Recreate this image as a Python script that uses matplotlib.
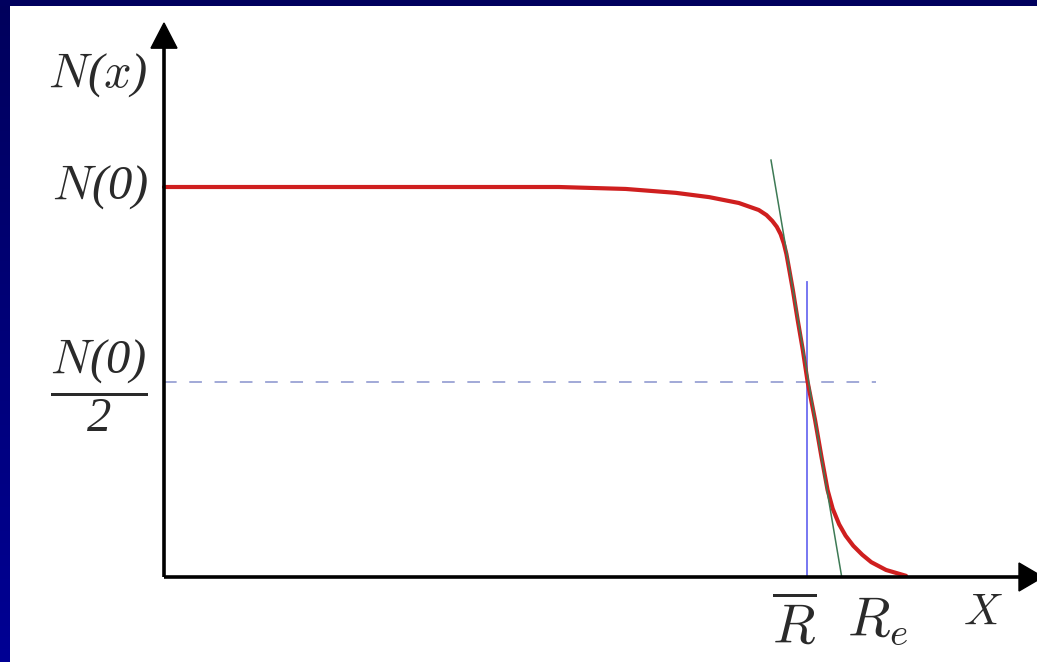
import numpy as np
import matplotlib
matplotlib.use("Agg")
import matplotlib.pyplot as plt
from matplotlib.colors import LinearSegmentedColormap

# Computer Modern italic letters, slanted parentheses / digits as in the original
plt.rcParams["mathtext.fontset"] = "custom"
plt.rcParams["mathtext.it"] = "cmmi10"
plt.rcParams["mathtext.rm"] = "Liberation Serif:italic"

# ── density profile N(x) (x in units of R-bar, y in units of N(0))
x_curve = [0.000, 0.365, 0.614, 0.718, 0.796, 0.848, 0.894, 0.925, 0.937, 0.946,
           0.953, 0.959, 0.964, 0.968, 0.9725, 0.978, 0.9855, 0.9935, 1.001, 1.0125,
           1.0225, 1.032, 1.040, 1.050, 1.060, 1.072, 1.086, 1.100, 1.123, 1.154]
y_curve = [1.000, 1.000, 1.000, 0.995, 0.985, 0.974, 0.959, 0.941, 0.928, 0.913,
           0.898, 0.879, 0.855, 0.828, 0.787, 0.736, 0.659, 0.582, 0.500, 0.403,
           0.308, 0.223, 0.175, 0.135, 0.106, 0.080, 0.057, 0.038, 0.018, 0.003]

# tangent through the half-density point, and its foot R_e
x_tangent = [0.944, 1.054]
y_tangent = [1.069, 0.0]

R_BAR = 1.0
HALF = 0.5
DASH_END = 1.107
RBAR_TOP = 0.756

# axis extents (data units)
X_AXIS_END = 1.34
Y_AXIS_END = 1.40

W, H = 1037, 662
X0, Y0 = 164, 577          # pixel position of the origin
SX, SY = 643.0, 390.0      # pixels per data unit

fig = plt.figure(figsize=(W / 100, H / 100), dpi=100, facecolor="white")
ax = fig.add_axes([0, 0, 1, 1])
ax.set_xlim(-X0 / SX, (W - X0) / SX)
ax.set_ylim((Y0 - H) / SY, Y0 / SY)
ax.axis("off")

# navy frame on the left and top
band = fig.add_axes([0, 0, 10 / W, 1])
band.imshow(np.linspace(0, 1, 256)[:, None], aspect="auto",
            cmap=LinearSegmentedColormap.from_list("nv", ["#00005c", "#000094"]))
band.axis("off")
top = fig.add_axes([0, 1 - 6 / H, 1, 6 / H])
top.set_facecolor("#00005e")
top.set_xticks([]); top.set_yticks([])
for s in top.spines.values():
    s.set_visible(False)

# coordinate axes with arrow heads
ax.plot([0, 0], [0, Y_AXIS_END], color="black", lw=2.6, solid_capstyle="butt", zorder=5)
ax.plot([0, X_AXIS_END], [0, 0], color="black", lw=2.6, solid_capstyle="butt", zorder=5)
ax.fill([-13 / SX, 13 / SX, 0], [1.356, 1.356, 1.4205], color="black", zorder=6, clip_on=False)
ax.fill([1.3297, 1.3297, 1.367], [-14 / SY, 14 / SY, 0], color="black", zorder=6, clip_on=False)

# guides
ax.plot([0, DASH_END], [HALF, HALF], color="#9aa2d4", lw=1.3,
        dashes=(7, 7), zorder=2)
ax.plot([R_BAR, R_BAR], [0, RBAR_TOP], color="#6c6cf0", lw=1.3, zorder=2)
ax.plot(x_tangent, y_tangent, color="#3d7a55", lw=1.1, zorder=4)

# profile
ax.plot(x_curve, y_curve, color="#cf1f1f", lw=3.0, solid_joinstyle="round",
        solid_capstyle="round", zorder=3)

# labels
tc = "#2a2a2a"
ax.text(-0.025, 1.287, r"$N(x)$", fontsize=35, ha="right", va="center", color=tc)
ax.text(-0.025, 1.0, r"$N(0)$", fontsize=35, ha="right", va="center", color=tc)
ax.text(-0.025, 0.49, r"$\dfrac{N(0)}{2}$", fontsize=35, ha="right", va="center", color=tc)
ax.text(0.9456, -0.169, r"$\overline{R}$", fontsize=40, ha="left", va="baseline", color=tc)
ax.text(1.062, -0.149, r"$R_e$", fontsize=40, ha="left", va="baseline", color=tc)
ax.text(1.2426, -0.123, r"$X$", fontsize=32, ha="left", va="baseline", color=tc)

fig.savefig("out.png", dpi=100, facecolor="white")
